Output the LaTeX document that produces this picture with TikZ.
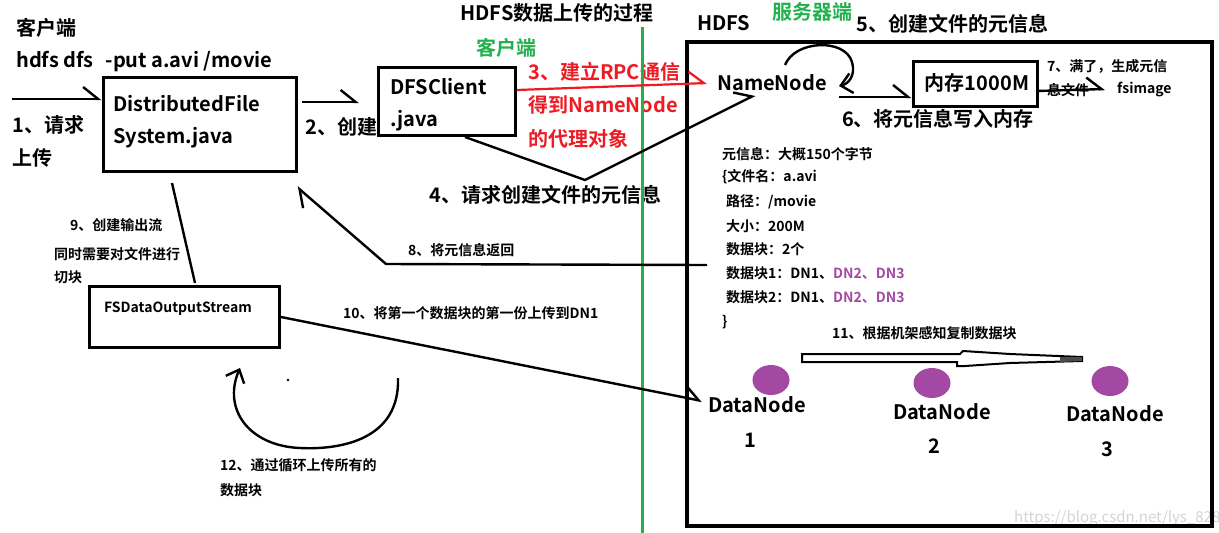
\documentclass[tikz,border=0pt]{standalone}
\usepackage{fontspec}
\setmainfont{Noto Sans CJK SC}[BoldFont={Noto Sans CJK SC Bold}]
\usetikzlibrary{arrows.meta,shapes.geometric}
\definecolor{mygreen}{HTML}{22B14C}
\definecolor{myred}{HTML}{ED1C24}
\definecolor{mypurple}{HTML}{A349A4}
\definecolor{wmgray}{HTML}{D4D4D4}
\begin{document}
\begin{tikzpicture}[x=1pt,y=-1pt,
  big/.style={font=\fontsize{20}{24}\selectfont\bfseries, inner sep=0pt, anchor=west},
  small/.style={font=\fontsize{14}{17}\selectfont\bfseries, inner sep=0pt, anchor=west},
  boxnode/.style={draw, line width=3pt, inner sep=0pt},
  conn/.style={line width=2.4pt},
  harp/.style={conn, -{Straight Barb[harpoon,length=15pt,width=24pt]}},
  full/.style={conn, -{Straight Barb[length=11pt,width=20pt]}},
  dnode/.style={fill=mypurple, ellipse, minimum width=37pt, minimum height=30pt, inner sep=0pt}
]
\useasboundingbox (0,0) rectangle (1219,533);
\fill[white] (0,0) rectangle (1219,533);

% ---------- left / client texts ----------
\node[big] (tclient) at (16,28) {客户端};
\node[big] (tcmd) at (16,62) {hdfs dfs\hspace{12pt}-put a.avi /movie};
\node[big] (t1a) at (12,125) {1、请求};
\node[big] (t1b) at (12,158) {上传};
\node[boxnode, minimum width=193pt, minimum height=94pt] (dfsbox) at (199.5,124) {};
\node[big] (tdfs1) at (113,104) {DistributedFile};
\node[big] (tdfs2) at (113,138) {System.java};
\node[big] (t2) at (305,127) {2、创建};
\node[boxnode, minimum width=137pt, minimum height=68pt] (clientbox) at (446.5,101) {};
\node[big] (tcl1) at (390,87) {DFSClient};
\node[big] (tcl2) at (390,121) {.java};

\node[big, anchor=center] (title) at (557,13) {HDFS数据上传的过程};
\node[big, anchor=center, text=mygreen] (tgclient) at (506,48) {客户端};
\node[big, text=myred] (t3a) at (528,72) {3、建立RPC通信};
\node[big, text=myred] (t3b) at (528,105) {得到NameNode};
\node[big, text=myred] (t3c) at (528,139) {的代理对象};
\node[big] (t4) at (429,195) {4、请求创建文件的元信息};

% ---------- HDFS side ----------
\node[big] (thdfs) at (697,23) {HDFS};
\node[big, text=mygreen] (tserver) at (772,12) {服务器端};
\node[big] (t5) at (856,24) {5、创建文件的元信息};
\node[big] (nn) at (717,83) {NameNode};
\node[boxnode, minimum width=124pt, minimum height=45pt] (membox) at (975,83.5) {};
\node[big, anchor=center] (tmem) at (977,83) {内存1000M};
\node[big, anchor=center] (t6) at (938,119) {6、将元信息写入内存};
\node[small] (t7a) at (1047,66) {7、满了，生成元信};
\node[small] (t7b) at (1047,90) {息文件};
\node[small] (tfs) at (1117,90) {fsimage};

\node[small] (m1) at (722,154) {元信息：大概150个字节};
\node[small] (m2) at (722,177) {\{文件名：a.avi};
\node[small] (m3) at (726,202) {路径：/movie};
\node[small] (m4) at (726,226) {大小：200M};
\node[small] (m5) at (726,249) {数据块：2个};
\node[small] (m6) at (726,273) {数据块1：DN1、\textcolor{mypurple}{DN2、DN3}};
\node[small] (m7) at (726,297) {数据块2：DN1、\textcolor{mypurple}{DN2、DN3}};
\node[small] (m8) at (722,322) {\}};
\node[small] (t11) at (832,333) {11、根据机架感知复制数据块};

\node[small] (t8) at (408,250) {8、将元信息返回};
\node[small] (t9a) at (70,225) {9、创建输出流};
\node[small] (t9b) at (54,254) {同时需要对文件进行};
\node[small] (t9c) at (54,277) {切块};
\node[boxnode, minimum width=190pt, minimum height=61pt] (fsbox) at (184,316.5) {};
\node[small] (tfsbox) at (104,309) {FSDataOutputStream};
\node[small] (t10) at (343,313) {10、将第一个数据块的第一份上传到DN1};
\node[small] (t12a) at (220,465) {12、通过循环上传所有的};
\node[small] (t12b) at (220,490) {数据块};

% DataNodes
\node[dnode] (dn1) at (771,380) {};
\node[dnode] (dn2) at (932,383) {};
\node[dnode] (dn3) at (1110,381) {};
\node[big, anchor=center] (dn1t) at (757,405) {DataNode};
\node[big, anchor=center] (dn1n) at (750,440) {1};
\node[big, anchor=center] (dn2t) at (942,412) {DataNode};
\node[big, anchor=center] (dn2n) at (934,446) {2};
\node[big, anchor=center] (dn3t) at (1115,414) {DataNode};
\node[big, anchor=center] (dn3n) at (1107,449) {3};

% watermark
\node[font=\fontsize{15}{18}\selectfont, text=wmgray, inner sep=0pt, anchor=west] (wm) at (1014,518) {https://blog.csdn.net/lys\_828};

% HDFS big box
\node[boxnode, line width=3.2pt, minimum width=525pt, minimum height=484pt] (hdfsbox) at (949.5,284) {};

% green divider
\coordinate (gtop) at (642,27);
\coordinate (gbot) at (642,533);
\draw[mygreen, line width=3pt] (gtop) -- (gbot);

% ---------- connectors ----------
\coordinate (in1) at (12,99);
\draw[harp] (in1) -- (in1 -| dfsbox.west);
\coordinate (r2) at (359,102);
\draw[harp] ([xshift=4pt]r2 -| dfsbox.east) -- (r2);
% 3 red
\coordinate (r3s) at (517,90);
\coordinate (r3e) at (707,83);
\draw[harp, myred, line width=2.2pt] (r3s) -- (r3e);
% 4
\coordinate (c4s) at (465,137);
\coordinate (c4v) at (585,180);
\coordinate (c4e) at (755,95);
\draw[harp] (c4s) -- (c4v) -- (c4e);
% self loop 5
\coordinate (l5s) at (785,65);
\coordinate (l5e) at (839,86);
\draw[full] (l5s) .. controls (795,40) and (845,38) .. (852,62) .. controls (856,76) and (848,84) .. (l5e);
% 6
\coordinate (c6s) at (839,97);
\draw[harp] (c6s) -- (c6s -| membox.west);
% 7
\coordinate (c7s) at (1037,91);
\coordinate (c7e) at (1105,89);
\draw[harp] (c7s) -- (c7e);
% 8
\coordinate (c8s) at (707,265);
\coordinate (c8c) at (386,264);
\coordinate (c8e) at (297,187);
\draw[harp] (c8s) -- (c8c) -- (c8e);
% 9
\coordinate (c9s) at (172,183);
\draw[conn] (c9s) -- (195,283);
% 10
\coordinate (c10s) at (281,317);
\coordinate (c10e) at (702,401);
\draw[harp] (c10s) -- (c10e);
% 11 hollow arrow
\draw[line width=2pt, fill=white] (802,354) -- (960,354) -- (963,351) -- (1010,354) -- (1082,357) -- (1082,361) -- (1010,363) -- (965,366) -- (957,366) -- (957,362) -- (802,362) -- cycle;
\fill[black!70] (1060,357) -- (1082,357) -- (1082,361) -- (1060,362) -- cycle;
% 12 loop
\coordinate (l12s) at (398,378);
\coordinate (l12e) at (240,368);
\draw[full] (l12s) .. controls (400,440) and (340,450) .. (300,448) .. controls (250,446) and (222,410) .. (l12e);
\fill (288,380) circle (1.3pt);
\end{tikzpicture}
\end{document}
